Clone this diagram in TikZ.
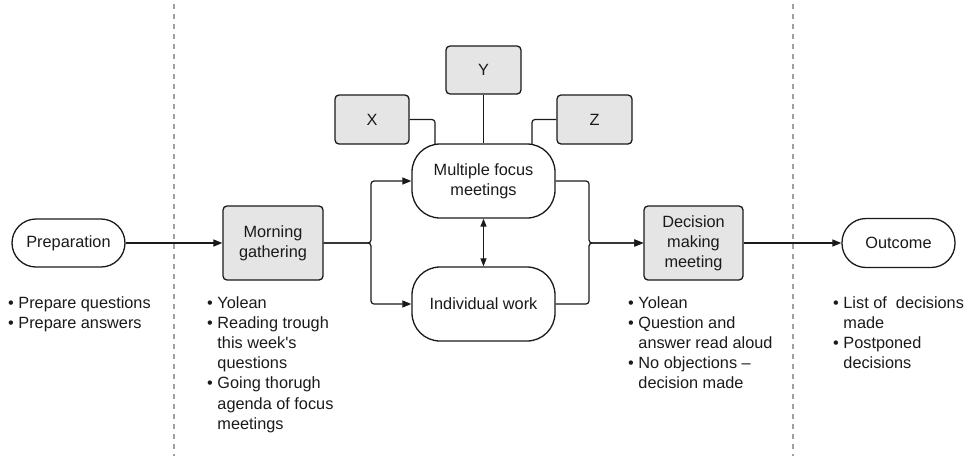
\documentclass[tikz,border=0pt]{standalone}
\usepackage{fontspec}
\setmainfont{Liberation Sans}
\usetikzlibrary{arrows.meta}
\definecolor{boxgray}{HTML}{E5E5E5}
\definecolor{divgray}{HTML}{A0A0A0}
\definecolor{ink}{HTML}{1A1A1A}
\newcommand{\bul}{•\ }
\newcommand{\ind}{\hphantom{•\ }}
\begin{document}
\begin{tikzpicture}[x=1pt,y=-1pt,
  font=\fontsize{16.3}{20.2}\selectfont,
  every node/.style={text=ink},
  graybox/.style={draw=ink, line width=1.3pt, fill=boxgray, rounded corners=4pt, align=center, inner sep=0pt},
  stadium/.style={draw=ink, line width=1.3pt, fill=white, align=center, inner sep=0pt, rounded corners=24pt},
  conn/.style={draw=ink, line width=1.2pt, rounded corners=3pt},
  arr/.style={-{Triangle[length=9pt,width=7pt]}},
  dblarr/.style={{Triangle[length=8pt,width=6pt]}-{Triangle[length=8pt,width=6pt]}},
  divider/.style={draw=divgray, line width=1.3pt, dash pattern=on 5pt off 5pt, dash phase=6pt},
  blist/.style={anchor=base west, inner sep=0pt}
]
\useasboundingbox (0,0) rectangle (971,456);

% dividers
\coordinate (d1t) at (174,0); \coordinate (d1b) at (174,456);
\coordinate (d2t) at (793,0); \coordinate (d2b) at (793,456);
\draw[divider] (d1t) -- (d1b);
\draw[divider] (d2t) -- (d2b);

% nodes
\node[stadium, minimum width=113pt, minimum height=48pt] (prep) at (68.5,243) {Preparation};
\node[graybox, minimum width=100pt, minimum height=74pt] (mg) at (273,243) {Morning\\gathering};
\node[stadium, rounded corners=28pt, minimum width=143pt, minimum height=74pt] (focus) at (483.5,181) {Multiple focus\\meetings};
\node[stadium, rounded corners=28pt, minimum width=143pt, minimum height=74pt] (indiv) at (483.5,304) {Individual work};
\node[graybox, minimum width=74pt, minimum height=49pt] (xb) at (372,119.5) {X};
\node[graybox, minimum width=75pt, minimum height=48pt] (yb) at (483.5,70) {Y};
\node[graybox, minimum width=75pt, minimum height=49pt] (zb) at (594.5,119.5) {Z};
\node[graybox, minimum width=99pt, minimum height=74pt] (dm) at (693.5,243) {Decision\\making\\meeting};
\node[stadium, minimum width=113pt, minimum height=49pt] (out) at (898.5,243) {Outcome};

% connectors
\draw[conn,arr] (prep.east) -- (mg.west);
\coordinate (j1) at (371,243);
\draw[conn,arr] (mg.east) -- (j1) |- (focus.west);
\draw[conn,arr] (mg.east) -- (j1) |- (indiv.west);
\coordinate (j2) at (589,243);
\draw[conn,arr] (focus.east) -| (j2) -- (dm.west);
\draw[conn,arr] (indiv.east) -| (j2) -- (dm.west);
\draw[conn,arr] (dm.east) -- (out.west);
\draw[conn,dblarr] (focus.south) -- (indiv.north);
\draw[conn] (yb.south) -- (focus.north);
\coordinate (xe) at (435,144.5);
\coordinate (ze) at (532,144.5);
\draw[conn] (xb.east) -| (xe);
\draw[conn] (zb.west) -| (ze);

% bullet lists
\node[blist] (lprep) at (8,308) {\begin{tabular}[t]{@{}l@{}}\bul Prepare questions\\\bul Prepare answers\end{tabular}};
\node[blist] (lmg) at (207,308) {\begin{tabular}[t]{@{}l@{}}\bul Yolean\\\bul Reading trough\\\ind this week\textquotesingle s\\\ind questions\\\bul Going thorugh\\\ind agenda of focus\\\ind meetings\end{tabular}};
\node[blist] (ldm) at (628,308) {\begin{tabular}[t]{@{}l@{}}\bul Yolean\\\bul Question and\\\ind answer read aloud\\\bul No objections –\\\ind decision made\end{tabular}};
\node[blist] (lout) at (833,308) {\begin{tabular}[t]{@{}l@{}}\bul List of\ \ decisions\\\ind made\\\bul Postponed\\\ind decisions\end{tabular}};
\end{tikzpicture}
\end{document}
